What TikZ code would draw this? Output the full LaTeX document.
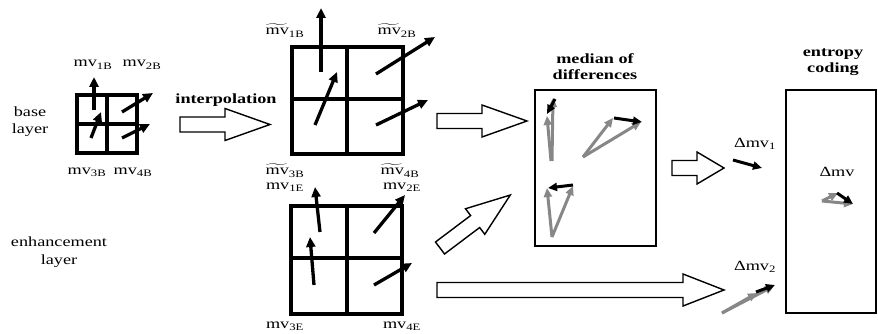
\documentclass[tikz,border=0pt]{standalone}
\usepackage{amsmath}
\usepackage{fontspec}
\setmainfont{Liberation Serif}[FakeStretch=1.3]
\usepackage{tikz}
\usetikzlibrary{arrows.meta,positioning,calc}
\usepackage{xcolor}
\definecolor{vecgray}{RGB}{135,135,135}

% hollow block arrow: tail, angle, length, head length
\newcommand{\blockarrow}[4]{%
  \draw[blockline,shift={#1},rotate=#2]
    (0,-7.5) -- ({#3-#4},-7.5) -- ({#3-#4},-16) -- (#3,0)
    -- ({#3-#4},16) -- ({#3-#4},7.5) -- (0,7.5) -- cycle;}
\newcommand{\mvtilde}{$\widetilde{\text{mv}}$}

\begin{document}
\begin{tikzpicture}[x=1pt,y=-1pt,
    every node/.style={font=\fontsize{14}{17}\selectfont,inner sep=0pt},
    cellgrid/.style={line width=3.4pt},
    mvec/.style={line width=3.3pt,-{Triangle[length=10pt,width=9pt]}},
    gvec/.style={vecgray,line width=3pt,-{Triangle[length=9pt,width=8pt]}},
    dvec/.style={black,line width=3pt,-{Triangle[length=9pt,width=8pt]}},
    blockline/.style={line width=1.4pt,fill=white},
    framebox/.style={draw,line width=1.7pt},
    title/.style={font=\fontsize{14}{16}\selectfont\bfseries,align=center}]
  \useasboundingbox (0,0) rectangle (878,334);

  % layer names
  \node[align=center] (baselayer) at (30,122) {base\\layer};
  \node[align=center,font=\fontsize{14}{18}\selectfont] (enhlayer) at (59,252) {enhancement\\layer};

  % 2x2 macroblock grids
  \foreach \l/\t/\r/\b/\mx/\my in {77/95/137/153/107/124,
      292/47/403/154/347/99, 291/206/402/314/347/258}{
    \draw[cellgrid] (\l,\t) rectangle (\r,\b);
    \draw[cellgrid] (\mx,\t) -- (\mx,\b) (\l,\my) -- (\r,\my);
  }

  % motion vectors in the grids
  \foreach \xa/\ya/\xb/\yb in {94/110/94/77, 91/138/101/112, 122/112/153/93, 122/138/150/124,
      321/72/321/8, 315/125/337/72, 376/74/435/37, 376/125/428/100,
      320/232/315/187, 314/285/310/237, 374/233/405/195, 374/285/412/263}
    \draw[mvec] (\xa,\ya) -- (\xb,\yb);

  % vector labels
  \node[anchor=base] (mvb1) at (93,67) {mv\textsubscript{1B}};
  \node[anchor=base] (mvb2) at (142,67) {mv\textsubscript{2B}};
  \node[anchor=base] (mvb3) at (87,174) {mv\textsubscript{3B}};
  \node[anchor=base] (mvb4) at (133,174) {mv\textsubscript{4B}};
  \node[anchor=base] (imv1) at (285,35) {\mvtilde\textsubscript{1B}};
  \node[anchor=base] (imv2) at (397,35) {\mvtilde\textsubscript{2B}};
  \node[anchor=base] (imv3) at (285,175) {\mvtilde\textsubscript{3B}};
  \node[anchor=base] (imv4) at (400,175) {\mvtilde\textsubscript{4B}};
  \node[anchor=base] (mve1) at (285,189) {mv\textsubscript{1E}};
  \node[anchor=base] (mve2) at (402,189) {mv\textsubscript{2E}};
  \node[anchor=base] (mve3) at (285,328) {mv\textsubscript{3E}};
  \node[anchor=base] (mve4) at (402,328) {mv\textsubscript{4E}};

  % interpolation step
  \node[font=\fontsize{14}{16}\selectfont\bfseries] (interp) at (226,100) {interpolation};
  \blockarrow{(180,124.5)}{0}{90}{45}

  % median of differences
  \node[framebox,minimum width=121pt,minimum height=156pt] (median) at (595.5,168) {};
  \node[title] (medtitle) at (595,67) {median of\\differences};
  \blockarrow{(437,121)}{0}{90}{45}
  \blockarrow{(440,248)}{37}{88}{44}
  \foreach \xa/\ya/\xb/\yb in {552/161/553/98, 551/161/547/116, 583/157/613/118,
      583/157/641/122, 552/237/547/188, 552/237/573/186}
    \draw[gvec] (\xa,\ya) -- (\xb,\yb);
  \foreach \xa/\ya/\xb/\yb in {555/99/547/114, 614/118/642/122, 573/185/548/188}
    \draw[dvec] (\xa,\ya) -- (\xb,\yb);

  % difference vectors
  \blockarrow{(672,168)}{0}{52}{27}
  \blockarrow{(437,290)}{0}{287}{41}
  \node[anchor=base] (dmv1) at (755,147) {Δmv\textsubscript{1}};
  \draw[dvec] (733,160) -- (762,168);
  \node[anchor=base] (dmv2) at (755,270) {Δmv\textsubscript{2}};
  \draw[gvec] (722,313) -- (757,293);
  \draw[gvec] (722,313) -- (774,286);
  \draw[dvec] (756,292) -- (775,285);

  % entropy coding
  \node[framebox,minimum width=90pt,minimum height=223pt] (entropy) at (831,201.5) {};
  \node[title] (enttitle) at (833,62) {entropy\\coding};
  \node[anchor=base] (dmv) at (837,176) {Δmv};
  \draw[gvec] (822,201) -- (838,193);
  \draw[gvec] (822,201) -- (853,204);
  \draw[dvec] (837,193) -- (853,204);
\end{tikzpicture}
\end{document}
